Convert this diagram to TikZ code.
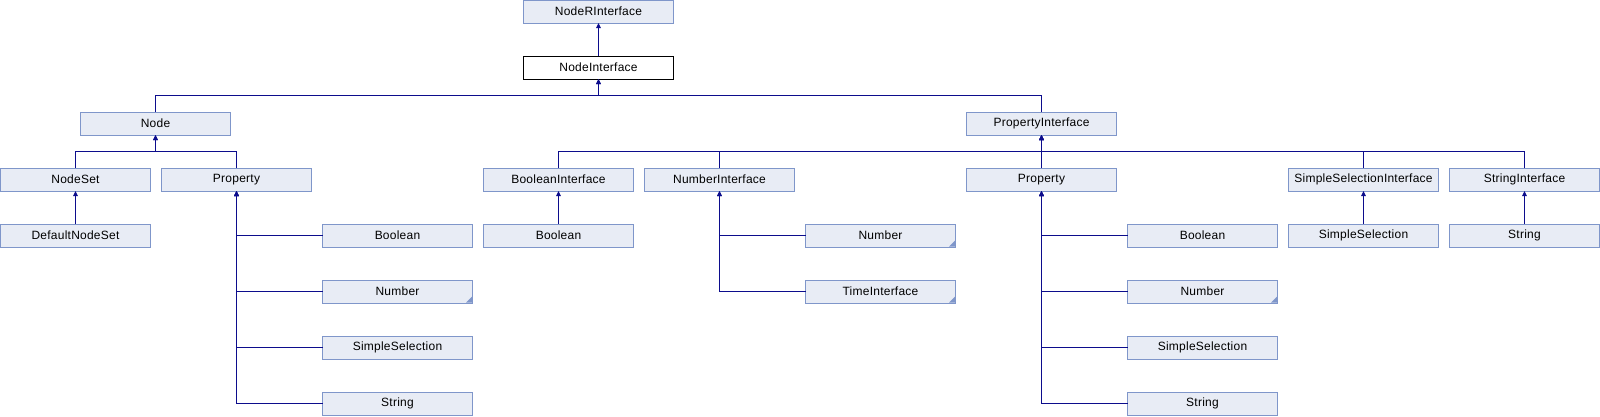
\documentclass[tikz,border=0pt]{standalone}
\usepackage{fontspec}
\setmainfont{Liberation Sans}[LetterSpace=2]
\usetikzlibrary{arrows.meta,calc}
\definecolor{boxfill}{HTML}{E8ECF5}
\definecolor{boxdraw}{HTML}{7F96CA}
\definecolor{edgecol}{HTML}{0C0C8C}
\tikzset{
  cls/.style={draw=boxdraw,fill=boxfill,line width=1pt,minimum width=150pt,minimum height=23pt,
    inner sep=0pt,outer sep=0pt,font=\fontsize{12}{14}\selectfont},
  cur/.style={cls,draw=black,fill=white},
  edge/.style={draw=edgecol,line width=1.1pt,-{Triangle[length=5pt,width=4.5pt]}},
}
\begin{document}
\begin{tikzpicture}[x=1pt,y=-1pt]
\useasboundingbox (0,0) rectangle (1600,416);
% columns: center x = 161c+75.5 ; rows: center y = 56r+11.5
\node[cls] (nri) at (598.5,11.5) {NodeRInterface};
\node[cur] (ni) at (598.5,67.5) {NodeInterface};
\node[cls] (node) at (155.5,123.5) {Node};
\node[cls] (pi) at (1041.5,123.5) {PropertyInterface};
\node[cls] (nodeset) at (75.5,179.5) {NodeSet};
\node[cls] (prop1) at (236.5,179.5) {Property};
\node[cls] (bi) at (558.5,179.5) {BooleanInterface};
\node[cls] (numi) at (719.5,179.5) {NumberInterface};
\node[cls] (prop2) at (1041.5,179.5) {Property};
\node[cls] (ssi) at (1363.5,179.5) {SimpleSelectionInterface};
\node[cls] (si) at (1524.5,179.5) {StringInterface};
\node[cls] (dns) at (75.5,235.5) {DefaultNodeSet};
\node[cls] (bool1) at (397.5,235.5) {Boolean};
\node[cls] (num1) at (397.5,291.5) {Number};
\node[cls] (ss1) at (397.5,347.5) {SimpleSelection};
\node[cls] (str1) at (397.5,403.5) {String};
\node[cls] (bool2) at (558.5,235.5) {Boolean};
\node[cls] (num2) at (880.5,235.5) {Number};
\node[cls] (ti) at (880.5,291.5) {TimeInterface};
\node[cls] (bool3) at (1202.5,235.5) {Boolean};
\node[cls] (num3) at (1202.5,291.5) {Number};
\node[cls] (ss3) at (1202.5,347.5) {SimpleSelection};
\node[cls] (str3) at (1202.5,403.5) {String};
\node[cls] (ss4) at (1363.5,235.5) {SimpleSelection};
\node[cls] (str4) at (1524.5,235.5) {String};
% corner marks
\foreach \n in {num1,num2,ti,num3}{
  \fill[boxdraw] ($(\n.south east)+(-0.5,-0.5)$) -- ++(-6,0) -- ++(6,-6) -- cycle;
}
\coordinate (busA) at (0,95.5);
\coordinate (busB) at (0,151.5);
% edges
\draw[edge] (ni.north) -- (nri.south);
\draw[edge] (node.north) -- (node.north |- busA) -| (ni.south);
\draw[edge] (pi.north) -- (pi.north |- busA) -| (ni.south);
\draw[edge] (nodeset.north) -- (nodeset.north |- busB) -| (node.south);
\draw[edge] (prop1.north) -- (prop1.north |- busB) -| (node.south);
\foreach \c in {bi,numi,prop2,ssi,si}{
  \draw[edge] (\c.north) -- (\c.north |- busB) -| (pi.south);
}
\draw[edge] (dns.north) -- (nodeset.south);
\foreach \c in {bool1,num1,ss1,str1}{
  \draw[edge] (\c.west) -| (prop1.south);
}
\draw[edge] (bool2.north) -- (bi.south);
\foreach \c in {num2,ti}{
  \draw[edge] (\c.west) -| (numi.south);
}
\foreach \c in {bool3,num3,ss3,str3}{
  \draw[edge] (\c.west) -| (prop2.south);
}
\draw[edge] (ss4.north) -- (ssi.south);
\draw[edge] (str4.north) -- (si.south);
\end{tikzpicture}
\end{document}
